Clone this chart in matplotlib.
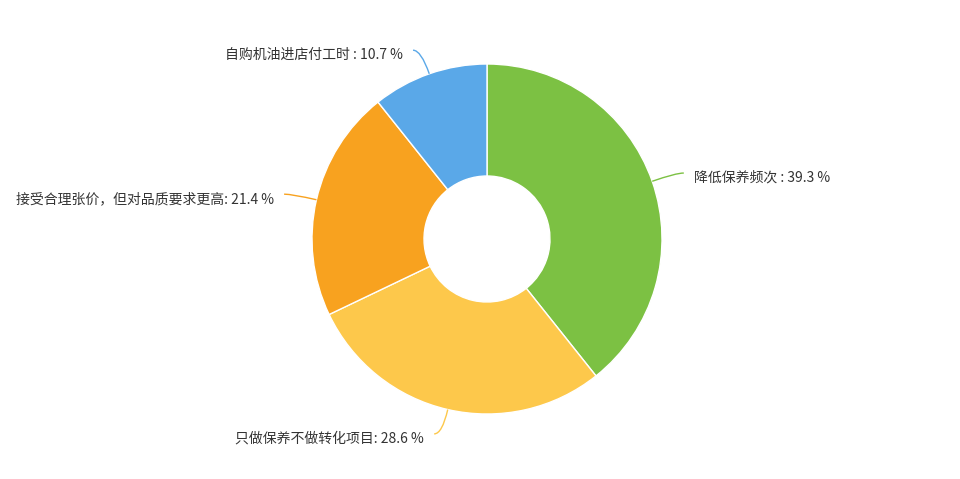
import numpy as np
import matplotlib.pyplot as plt
from matplotlib.path import Path
from matplotlib.patches import PathPatch

plt.rcParams['font.family'] = ['Noto Sans CJK SC', 'DejaVu Sans']

labels = ['降低保养频次', '只做保养不做转化项目', '接受合理张价，但对品质要求更高', '自购机油进店付工时']
label_sep = [' : ', ': ', ': ', ' : ']
values = [39.3, 28.6, 21.4, 10.7]
colors = ['#7cc143', '#fdc84b', '#f8a21f', '#5aa8e8']

fig = plt.figure(figsize=(9.6, 4.79), dpi=100)
ax = fig.add_axes([0, 0, 1, 1])

cx, cy, r = 487, 240, 175
wedges, _ = ax.pie(values, colors=colors, startangle=90, counterclock=False,
                   center=(cx, cy), radius=r, frame=True,
                   wedgeprops=dict(width=112, edgecolor='white', linewidth=1))
ax.set_xlim(0, 960)
ax.set_ylim(0, 479)
ax.set_aspect('equal')
ax.axis('off')

# 引导线 + 标签
for w, lab, sep, v, c in zip(wedges, labels, label_sep, values, colors):
    ang = np.deg2rad((w.theta1 + w.theta2) / 2)
    d = np.array([np.cos(ang), np.sin(ang)])
    p0 = np.array([cx, cy]) + r * d
    p1 = np.array([cx, cy]) + (r + 25) * d
    side = 1 if d[0] > 0 else -1
    p2 = p1 + np.array([side * 8, 0])
    path = Path([p0, p1, p2], [Path.MOVETO, Path.CURVE3, Path.CURVE3])
    ax.add_patch(PathPatch(path, fill=False, edgecolor=c, lw=1))
    ha = 'left' if side > 0 else 'right'
    ax.text(p2[0] + side * 10, p2[1] - 5, f'{lab}{sep}{v} %', ha=ha, va='center',
            fontsize=10, color='#333333')

fig.savefig('out.png', dpi=100, facecolor='white')
